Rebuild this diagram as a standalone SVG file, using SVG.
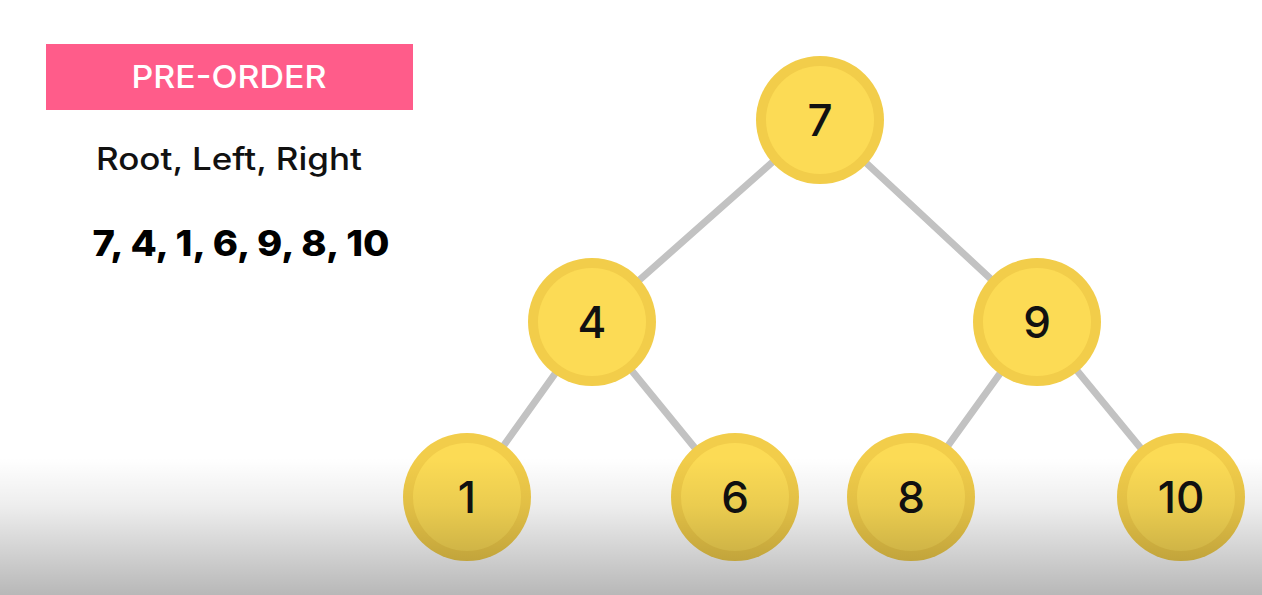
<svg xmlns="http://www.w3.org/2000/svg" width="1262" height="595" viewBox="0 0 1262 595">
  <defs>
    <linearGradient id="shade" x1="0" y1="0" x2="0" y2="1">
      <stop offset="0" stop-color="#000" stop-opacity="0"/>
      <stop offset="0.35" stop-color="#000" stop-opacity="0.07"/>
      <stop offset="1" stop-color="#000" stop-opacity="0.28"/>
    </linearGradient>
    <style>
      .edge { stroke: #c2c2c2; stroke-width: 7; stroke-linecap: round; }
      .outer { fill: #f2cd4a; }
      .inner { fill: #fcdb55; }
      .lbl { font-family: "Inter", "Liberation Sans", sans-serif; font-size: 44px; font-weight: 500; fill: #111; text-anchor: middle; }
      .title { font-family: "Inter", "Liberation Sans", sans-serif; font-size: 31px; font-weight: 500; fill: #fff; text-anchor: middle; }
      .sub { font-family: "Inter", "Liberation Sans", sans-serif; font-size: 31px; font-weight: 500; fill: #111; text-anchor: middle; }
      .seq { font-family: "Inter", "Liberation Sans", sans-serif; font-size: 35px; font-weight: 800; fill: #000; text-anchor: middle; }
    </style>
  </defs>

  <rect width="1262" height="595" fill="#fff"/>

  <!-- heading and traversal result -->
  <g id="header">
    <rect x="46" y="44" width="367" height="66" fill="#ff5c8a"/>
    <text class="title" x="229" y="88" textLength="195" lengthAdjust="spacingAndGlyphs">PRE-ORDER</text>
    <text class="sub" x="229" y="170" textLength="266" lengthAdjust="spacingAndGlyphs">Root, Left, Right</text>
    <text class="seq" x="241" y="256" textLength="297" lengthAdjust="spacingAndGlyphs">7, 4, 1, 6, 9, 8, 10</text>
  </g>

  <!-- tree edges -->
  <g id="edges">
    <line class="edge" x1="820" y1="120" x2="592" y2="322"/>
    <line class="edge" x1="820" y1="120" x2="1037" y2="322"/>
    <line class="edge" x1="592" y1="322" x2="467" y2="497"/>
    <line class="edge" x1="592" y1="322" x2="735" y2="497"/>
    <line class="edge" x1="1037" y1="322" x2="911" y2="497"/>
    <line class="edge" x1="1037" y1="322" x2="1181" y2="497"/>
  </g>

  <g id="node-7">
    <circle class="outer" cx="820" cy="120" r="64"/>
    <circle class="inner" cx="820" cy="120" r="54"/>
    <text class="lbl" x="820" y="136">7</text>
  </g>
  <g id="node-4">
    <circle class="outer" cx="592" cy="322" r="64"/>
    <circle class="inner" cx="592" cy="322" r="54"/>
    <text class="lbl" x="592" y="338">4</text>
  </g>
  <g id="node-9">
    <circle class="outer" cx="1037" cy="322" r="64"/>
    <circle class="inner" cx="1037" cy="322" r="54"/>
    <text class="lbl" x="1037" y="338">9</text>
  </g>
  <g id="node-1">
    <circle class="outer" cx="467" cy="497" r="64"/>
    <circle class="inner" cx="467" cy="497" r="54"/>
    <text class="lbl" x="467" y="513">1</text>
  </g>
  <g id="node-6">
    <circle class="outer" cx="735" cy="497" r="64"/>
    <circle class="inner" cx="735" cy="497" r="54"/>
    <text class="lbl" x="735" y="513">6</text>
  </g>
  <g id="node-8">
    <circle class="outer" cx="911" cy="497" r="64"/>
    <circle class="inner" cx="911" cy="497" r="54"/>
    <text class="lbl" x="911" y="513">8</text>
  </g>
  <g id="node-10">
    <circle class="outer" cx="1181" cy="497" r="64"/>
    <circle class="inner" cx="1181" cy="497" r="54"/>
    <text class="lbl" x="1181" y="513">10</text>
  </g>

  <!-- soft shading along the bottom edge -->
  <rect x="0" y="458" width="1262" height="137" fill="url(#shade)"/>
</svg>
